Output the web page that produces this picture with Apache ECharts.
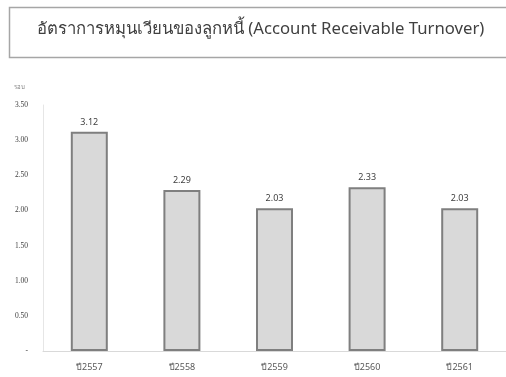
<!DOCTYPE html>
<html>
<head>
<meta charset="utf-8">
<script src="https://cdn.jsdelivr.net/npm/echarts@6/dist/echarts.min.js"></script>
<style>
html,body{margin:0;padding:0;background:#fff;}
#chart{width:506px;height:377px;}
</style>
</head>
<body>
<div id="chart"></div>
<script>
// Accounts receivable turnover by fiscal year (Thai Buddhist-era years)
const titleText = 'อัตราการหมุนเวียนของลูกหนี้ (Account Receivable Turnover)';
const unitText = 'รอบ';
const years = ['ปี2557', 'ปี2558', 'ปี2559', 'ปี2560', 'ปี2561'];
const turnover = [3.12, 2.29, 2.03, 2.33, 2.03];

const chart = echarts.init(document.getElementById('chart'));
chart.setOption({
  animation: false,
  graphic: [
    {
      type: 'rect',
      shape: { x: 9.5, y: 7.5, width: 510, height: 50 },
      style: { fill: '#fff', stroke: '#a6a6a6', lineWidth: 1.5 }
    },
    {
      type: 'text',
      left: 37,
      top: 21,
      style: { text: titleText, fill: '#404040', font: '16.7px "Noto Sans", sans-serif' }
    },
    {
      type: 'text',
      left: 14,
      top: 84,
      style: { text: unitText, fill: '#7f7f7f', font: '6px "Noto Sans", sans-serif' }
    }
  ],
  grid: { left: 43, right: -2, top: 105, bottom: 26 },
  xAxis: {
    type: 'category',
    data: years,
    axisLine: { lineStyle: { color: '#d9d9d9', width: 1 } },
    axisTick: { show: false },
    axisLabel: { color: '#595959', fontSize: 9, margin: 12, fontFamily: '"Noto Sans", sans-serif' }
  },
  yAxis: {
    type: 'value',
    min: 0,
    max: 3.5,
    interval: 0.5,
    axisLine: { show: true, lineStyle: { color: '#e6e6e6', width: 1 } },
    axisTick: { show: false },
    splitLine: { show: false },
    axisLabel: {
      color: '#404040',
      fontSize: 7.5,
      margin: 15,
      fontFamily: '"Liberation Serif", serif',
      formatter: v => v === 0 ? '-' : v.toFixed(2)
    }
  },
  series: [{
    type: 'bar',
    data: turnover,
    barWidth: 37,
    itemStyle: { color: '#d9d9d9', borderColor: '#7f7f7f', borderWidth: 2 },
    label: {
      show: true,
      position: 'top',
      distance: 5,
      color: '#404040',
      fontSize: 9,
      fontFamily: '"Noto Sans", sans-serif',
      formatter: p => p.value.toFixed(2)
    }
  }]
});
</script>
</body>
</html>
